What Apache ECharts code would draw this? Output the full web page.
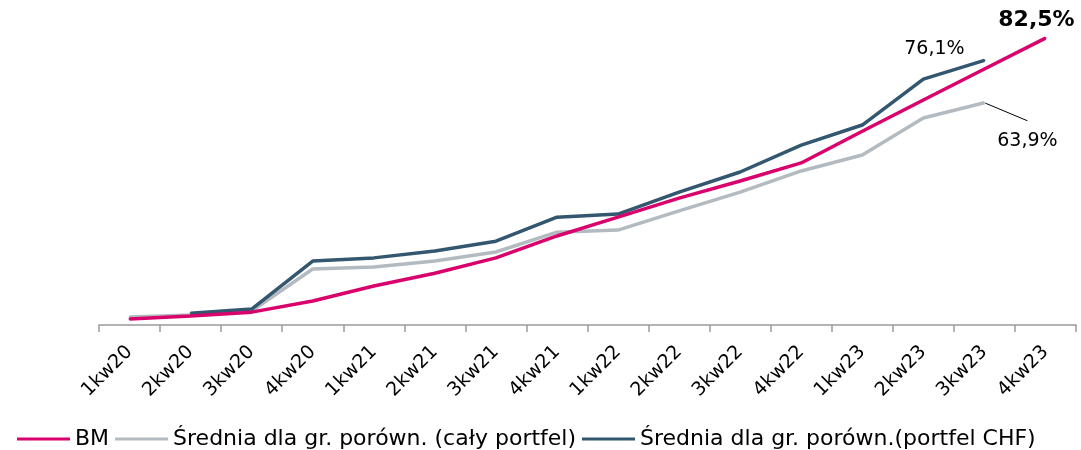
<!DOCTYPE html>
<html>
<head>
<meta charset="utf-8">
<script src="https://cdn.jsdelivr.net/npm/echarts@6/dist/echarts.min.js"></script>
<style>
  html, body { margin: 0; padding: 0; background: #fff; }
  #chart { width: 1081px; height: 450px; }
</style>
</head>
<body>
<div id="chart"></div>
<script>
// kwartały
var categories = ['1kw20', '2kw20', '3kw20', '4kw20', '1kw21', '2kw21', '3kw21', '4kw21',
    '1kw22', '2kw22', '3kw22', '4kw22', '1kw23', '2kw23', '3kw23', '4kw23'];

// wartości w %
var bmValues = [1.7, 2.6, 3.7, 6.9, 11.2, 14.9, 19.3, 25.6, 31.0, 36.5, 41.4, 46.6, 55.7, 64.7, 73.6, 82.5];
var srednia = [2.3, 2.9, 4.0, 16.1, 16.7, 18.4, 21.0, 26.7, 27.3, 32.8, 38.2, 44.3, 48.9, 59.5, 63.9, null];
var sredniaChf = [null, 3.4, 4.6, 18.4, 19.3, 21.3, 24.1, 31.0, 31.9, 38.2, 44.0, 51.7, 57.5, 70.7, 76.1, null];

var FONT = 'DejaVu Sans';

function fmt(v) {
    return v.toFixed(1).replace('.', ',') + '%';
}

// etykieta tylko przy wybranym punkcie
function withLabel(values, idx, label) {
    return values.map(function (v, i) {
        if (i === idx) {
            return { value: v, label: label };
        }
        return v;
    });
}

var chart = echarts.init(document.getElementById('chart'));
var option = {
    animation: false,
    textStyle: { fontFamily: FONT },
    grid: {
        left: 99,
        right: 5,
        top: 12,
        bottom: 125
    },
    legend: {
        left: 12,
        top: 423,
        itemWidth: 53,
        itemHeight: 3,
        itemGap: 6,
        icon: 'rect',
        textStyle: { fontSize: 22, color: '#000', fontFamily: FONT },
        data: ['BM', 'Średnia dla gr. porówn. (cały portfel)', 'Średnia dla gr. porówn.(portfel CHF)']
    },
    xAxis: {
        type: 'category',
        data: categories,
        boundaryGap: true,
        axisLine: { lineStyle: { color: '#9a9a9a', width: 1.5 } },
        axisTick: { show: true, length: 7, lineStyle: { color: '#9a9a9a', width: 1.5 } },
        axisLabel: {
            rotate: 45,
            fontSize: 19,
            color: '#000',
            margin: 24,
            interval: 0
        }
    },
    yAxis: {
        type: 'value',
        min: 0,
        max: 90,
        show: false,
        splitLine: { show: false }
    },
    series: [
        {
            name: 'Średnia dla gr. porówn. (cały portfel)',
            type: 'line',
            symbol: 'circle',
            symbolSize: 2,
            showSymbol: true,
            z: 2,
            lineStyle: { width: 3.5, color: '#b3bbc1' },
            itemStyle: { color: '#b3bbc1' },
            data: withLabel(srednia, 14, {
                show: true,
                position: 'bottom',
                distance: 5,
                padding: [11, 60, 0, 60],
                backgroundColor: 'rgba(255,255,255,0)',
                formatter: function (p) { return fmt(p.value); },
                fontSize: 19,
                color: '#000'
            }),
            labelLayout: { dx: 43, dy: 12 },
            labelLine: { show: true, lineStyle: { color: '#000', width: 1 } }
        },
        {
            name: 'Średnia dla gr. porówn.(portfel CHF)',
            type: 'line',
            symbol: 'circle',
            symbolSize: 2,
            showSymbol: true,
            z: 3,
            lineStyle: { width: 3.5, color: '#33576f' },
            itemStyle: { color: '#33576f' },
            data: withLabel(sredniaChf, 14, {
                show: true,
                position: 'top',
                offset: [-50, 0],
                distance: 1,
                formatter: function (p) { return fmt(p.value); },
                fontSize: 19,
                color: '#000'
            })
        },
        {
            name: 'BM',
            type: 'line',
            symbol: 'circle',
            symbolSize: 2,
            showSymbol: true,
            z: 4,
            lineStyle: { width: 3.5, color: '#d9026c' },
            itemStyle: { color: '#d9026c' },
            data: withLabel(bmValues, 15, {
                show: true,
                position: 'top',
                offset: [-9, 0],
                distance: 6,
                formatter: function (p) { return fmt(p.value); },
                fontSize: 22,
                fontWeight: 'bold',
                color: '#000'
            })
        }
    ]
};
chart.setOption(option);
</script>
</body>
</html>
